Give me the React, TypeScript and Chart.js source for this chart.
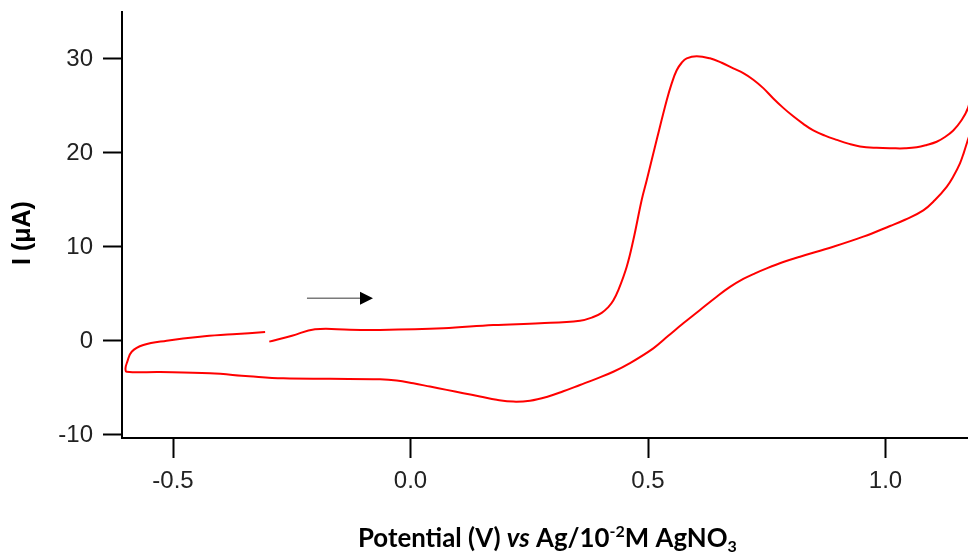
import React, { useEffect, useRef } from 'react';
import { Chart, registerables } from 'chart.js';

Chart.register(...registerables);

// Cyclic voltammogram trace (one continuous scan), potential in V, current in µA
const potentialV = [
  // forward scan
  -0.2973, -0.2495, -0.2011, -0.1274, -0.0642, 0.0691, 0.1743, 0.2726, 0.3568, 0.3848,
  0.4025, 0.4164, 0.4269, 0.4375, 0.4552, 0.4691, 0.4867, 0.4973, 0.5183, 0.5394,
  0.5499, 0.5604, 0.5709, 0.5815, 0.6025, 0.6305, 0.6552, 0.6796, 0.7006, 0.7217,
  0.7427, 0.7638, 0.7848, 0.8059, 0.8269, 0.848, 0.8726, 0.8973, 0.9217, 0.9463,
  0.9815, 1.0164, 1.0411, 1.0657, 1.0867, 1.1078, 1.1253, 1.1427, 1.1589, 1.1737,
  1.19,
  // reverse scan
  1.185, 1.1722, 1.1653, 1.1568, 1.1427, 1.1288, 1.1042, 1.0796, 1.0411, 1.0095,
  0.9533, 0.8901, 0.82, 0.7848, 0.7499, 0.7253, 0.7006, 0.6726, 0.6446, 0.6095,
  0.5743, 0.5427, 0.5112, 0.4621, 0.4269, 0.392, 0.3568, 0.3217, 0.2867,
  0.2516, 0.2164, 0.1815, 0.1463, 0.1112, 0.0762, 0.0411, 0.0059, -0.0291, -0.0642,
  -0.1695, -0.2678, -0.34, -0.4221, -0.5274, -0.5975, -0.6,
  // second forward scan
  -0.5962, -0.587, -0.5625, -0.5133, -0.4432, -0.3741, -0.3061,
];
const currentUA = [
  -0.07, 0.56, 1.24, 1.2, 1.17, 1.35, 1.7, 1.88, 2.16, 2.55,
  3.0, 3.6, 4.3, 5.4, 7.9, 10.74, 15.0, 17.1, 21.4, 25.6,
  27.4, 28.8, 29.6, 30.07, 30.3, 30.07, 29.6, 29.0, 28.5, 27.8,
  26.9, 25.8, 24.8, 23.9, 23.1, 22.4, 21.85, 21.4, 21.0, 20.7,
  20.55, 20.5, 20.5, 20.6, 20.85, 21.2, 21.7, 22.4, 23.4, 24.8,
  28.0,
  23.3, 21.2, 20.1, 18.9, 17.5, 16.4, 15.0, 13.9, 12.9, 12.23,
  11.1, 10.03, 8.97, 8.4, 7.73, 7.2, 6.6, 5.75, 4.71, 3.3,
  1.88, 0.55, -0.78, -2.35, -3.27, -4.0, -4.68, -5.35, -5.95,
  -6.35, -6.45, -6.25, -5.9, -5.55, -5.2, -4.85, -4.5, -4.2, -4.07,
  -4.02, -3.97, -3.75, -3.44, -3.3, -3.27, -2.9,
  -2.2, -1.14, -0.43, 0.03, 0.46, 0.71, 0.96,
];

const xTicks = [-0.5, 0.0, 0.5, 1.0];
const yTicks = [-10, 0, 10, 20, 30];
const xRange = [-0.6074, 1.1737];
const yRange = [-10.32, 35.0];

// scan-direction arrow (data coordinates)
const arrowX = [-0.218, -0.079];
const arrowY = [4.54, 4.54];

const yTitle = 'I (\u03BCA)';
const xTitleParts = [
  { text: 'Potential (V) ', italic: false, shift: 0 },
  { text: 'vs', italic: true, shift: 0 },
  { text: ' Ag/10', italic: false, shift: 0 },
  { text: '-2', italic: false, shift: -1 },
  { text: 'M AgNO', italic: false, shift: 0 },
  { text: '3', italic: false, shift: 1 },
];

export default function App() {
  const canvasRef = useRef<HTMLCanvasElement | null>(null);

  useEffect(() => {
    const canvas = canvasRef.current;
    if (!canvas) return;

    const points = potentialV.map((x, i) => ({ x, y: currentUA[i] }));

    const decorPlugin = {
      id: 'decor',
      afterDatasetsDraw(chart: any) {
        const ctx = chart.ctx as CanvasRenderingContext2D;
        const xs = chart.scales.x;
        const ys = chart.scales.y;
        const x0 = xs.getPixelForValue(arrowX[0]);
        const x1 = xs.getPixelForValue(arrowX[1]);
        const y0 = ys.getPixelForValue(arrowY[0]);
        const headLen = 13;
        ctx.save();
        ctx.strokeStyle = '#7a7a7a';
        ctx.lineWidth = 1.6;
        ctx.beginPath();
        ctx.moveTo(x0, y0);
        ctx.lineTo(x1 - headLen + 2, y0);
        ctx.stroke();
        ctx.fillStyle = '#000';
        ctx.beginPath();
        ctx.moveTo(x1, y0);
        ctx.lineTo(x1 - headLen, y0 - 6.5);
        ctx.lineTo(x1 - headLen, y0 + 6.5);
        ctx.closePath();
        ctx.fill();
        ctx.restore();
      },
      afterDraw(chart: any) {
        const ctx = chart.ctx as CanvasRenderingContext2D;
        ctx.save();
        ctx.translate(23, 233);
        ctx.rotate(-Math.PI / 2);
        ctx.font = 'bold 25px "Liberation Sans", Arial, sans-serif';
        ctx.fillStyle = '#000';
        ctx.textAlign = 'center';
        ctx.textBaseline = 'middle';
        ctx.fillText(yTitle, 0, 0);
        ctx.restore();

        const family = 'Lato, "Open Sans", sans-serif';
        const targetWidth = 379;
        const centerX = 547.5;
        const baseline = 546.5;
        const measure = (size: number) => {
          let w = 0;
          for (const p of xTitleParts) {
            const s = p.shift !== 0 ? size * 0.62 : size;
            ctx.font = `${p.italic ? 'italic ' : ''}bold ${s}px ${family}`;
            w += ctx.measureText(p.text).width;
          }
          return w;
        };
        ctx.save();
        const base = 20;
        const w20 = measure(base);
        const size = (base * targetWidth) / w20;
        let x = centerX - targetWidth / 2;
        ctx.fillStyle = '#000';
        ctx.textAlign = 'left';
        ctx.textBaseline = 'alphabetic';
        for (const p of xTitleParts) {
          const s = p.shift !== 0 ? size * 0.62 : size;
          ctx.font = `${p.italic ? 'italic ' : ''}bold ${s}px ${family}`;
          const dy = p.shift < 0 ? -size * 0.36 : p.shift > 0 ? size * 0.22 : 0;
          ctx.fillText(p.text, x, baseline + dy);
          x += ctx.measureText(p.text).width;
        }
        ctx.restore();
      },
    };

    const tickFont = { family: '"Liberation Sans", Arial, sans-serif', size: 24 };

    const chart = new Chart(canvas, {
      type: 'scatter',
      data: {
        datasets: [
          {
            data: points,
            showLine: true,
            borderColor: '#ff0000',
            backgroundColor: '#ff0000',
            borderWidth: 2,
            pointRadius: 0,
            pointHoverRadius: 0,
            tension: 0.4,
            fill: false,
          },
        ],
      },
      options: {
        responsive: false,
        animation: false,
        devicePixelRatio: 1,
        layout: { padding: { top: 12, right: 0, left: 0, bottom: 0 } },
        plugins: {
          legend: { display: false },
          tooltip: { enabled: false },
          title: { display: false },
        },
        events: [],
        scales: {
          x: {
            type: 'linear',
            position: 'bottom',
            min: xRange[0],
            max: xRange[1],
            afterBuildTicks: (scale: any) => {
              scale.ticks = xTicks.map((v) => ({ value: v }));
            },
            afterFit: (scale: any) => {
              scale.height = 118;
              scale.paddingLeft = 0;
              scale.paddingRight = 0;
            },
            ticks: {
              includeBounds: false,
              autoSkip: false,
              maxRotation: 0,
              padding: 9,
              color: '#222',
              font: tickFont,
              callback: (v: any) => Number(v).toFixed(1),
            },
            grid: {
              drawOnChartArea: false,
              drawTicks: true,
              tickLength: 20,
              tickWidth: 2,
              tickColor: '#000',
            },
            border: { display: true, color: '#000', width: 2 },
          },
          y: {
            type: 'linear',
            position: 'left',
            min: yRange[0],
            max: yRange[1],
            afterBuildTicks: (scale: any) => {
              scale.ticks = yTicks.map((v) => ({ value: v }));
            },
            afterFit: (scale: any) => {
              scale.width = 122;
              scale.paddingTop = 0;
              scale.paddingBottom = 0;
            },
            ticks: {
              includeBounds: false,
              autoSkip: false,
              padding: 10,
              color: '#222',
              font: tickFont,
              callback: (v: any) => String(v),
            },
            grid: {
              drawOnChartArea: false,
              drawTicks: true,
              tickLength: 19,
              tickWidth: 2,
              tickColor: '#000',
            },
            border: { display: true, color: '#000', width: 2 },
          },
        },
      },
      plugins: [decorPlugin],
    });

    return () => {
      chart.destroy();
    };
  }, []);

  return (
    <div style={{ position: 'fixed', left: 0, top: 0, width: 968, height: 556, background: '#fff' }}>
      <canvas ref={canvasRef} width={968} height={556} style={{ width: 968, height: 556, display: 'block' }} />
    </div>
  );
}
